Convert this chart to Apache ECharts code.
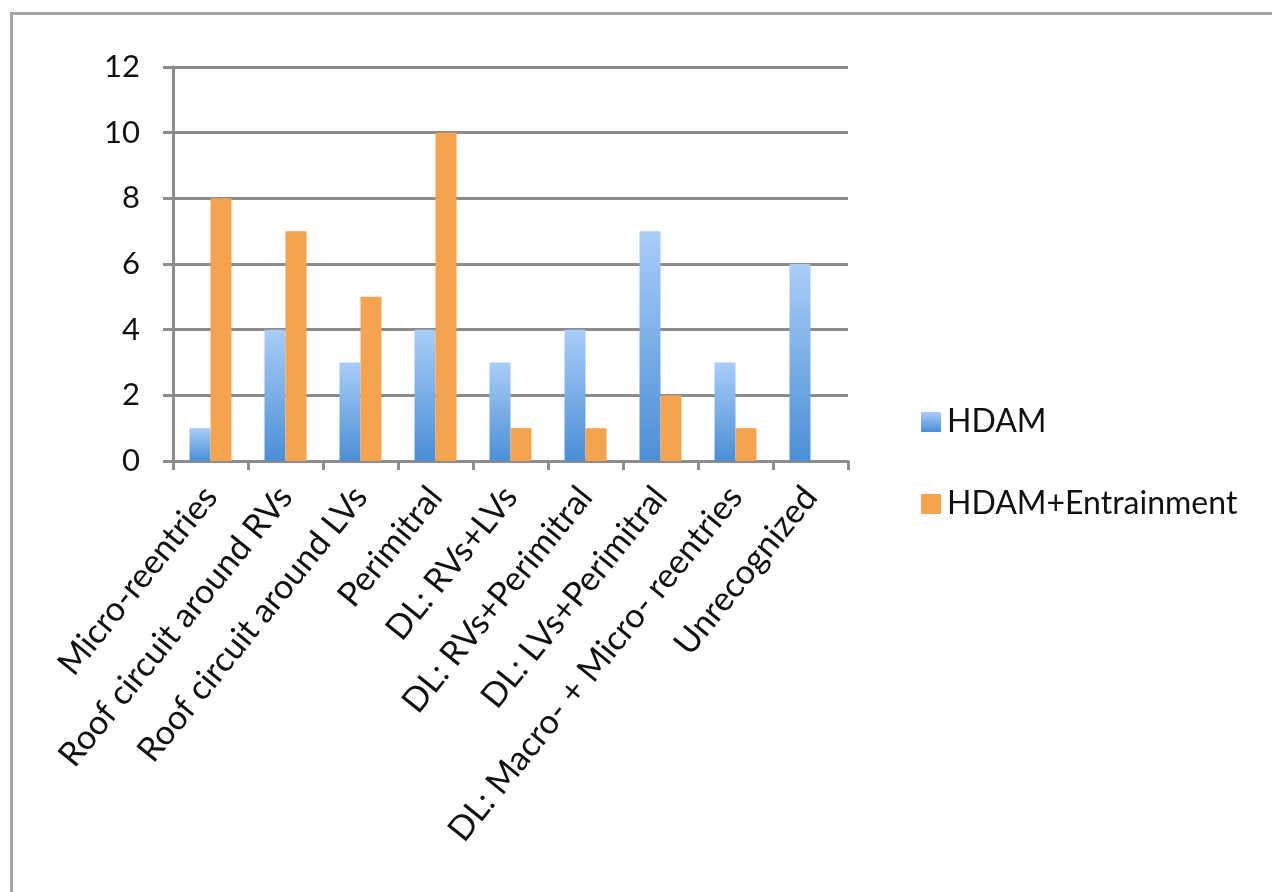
<!DOCTYPE html>
<html>
<head>
<meta charset="utf-8">
<style>
  html, body { margin: 0; padding: 0; background: #fff; overflow: hidden; }
  #frame { position: absolute; left: 10px; top: 12px; width: 1400px; height: 1000px;
           border: 3px solid #a6a6a6; box-sizing: border-box; }
  #chart { position: absolute; left: 0; top: 0; width: 1272px; height: 892px; }
</style>
<script src="https://cdn.jsdelivr.net/npm/echarts@6/dist/echarts.min.js"></script>
</head>
<body>
<div id="frame"></div>
<div id="chart"></div>
<script>
// Circuit types and counts per mapping approach
const categories = [
  'Micro-reentries',
  'Roof circuit around RVs',
  'Roof circuit around LVs',
  'Perimitral',
  'DL: RVs+LVs',
  'DL: RVs+Perimitral',
  'DL: LVs+Perimitral',
  'DL: Macro- + Micro- reentries',
  'Unrecognized'
];
const hdam = [1, 4, 3, 4, 3, 4, 7, 3, 6];
const hdamEntrainment = [8, 7, 5, 10, 1, 1, 2, 1, 0];
const yTicks = [0, 2, 4, 6, 8, 10, 12];

const FONT = 'Lato, "Open Sans", sans-serif';
const chart = echarts.init(document.getElementById('chart'), null, { renderer: 'canvas' });

const blueFill = new echarts.graphic.LinearGradient(0, 0, 0, 1, [
  { offset: 0, color: '#a9cdf8' },
  { offset: 1, color: '#4a8fd6' }
]);
const orangeFill = '#f6a34f';

chart.setOption({
  animation: false,
  backgroundColor: 'transparent',
  grid: { left: 173, right: 424, top: 67, bottom: 431, containLabel: false },
  legend: {
    orient: 'vertical',
    left: 916,
    top: 401,
    itemWidth: 20,
    itemHeight: 20,
    itemGap: 50,
    icon: 'rect',
    textStyle: { fontFamily: FONT, fontSize: 32, color: '#111', padding: [0, 0, 0, 1] },
    data: ['HDAM', 'HDAM+Entrainment']
  },
  xAxis: {
    type: 'category',
    data: categories,
    axisLine: { lineStyle: { color: '#8c8c8c', width: 3 } },
    axisTick: { show: true, length: 9, alignWithLabel: false, lineStyle: { color: '#8c8c8c', width: 3 } },
    axisLabel: {
      rotate: 51,
      interval: 0,
      margin: 30,
      fontFamily: FONT,
      fontSize: 34,
      color: '#111'
    }
  },
  yAxis: {
    type: 'value',
    min: yTicks[0],
    max: yTicks[yTicks.length - 1],
    interval: 2,
    axisLine: { show: true, lineStyle: { color: '#8c8c8c', width: 3 } },
    axisTick: { show: true, length: 10, lineStyle: { color: '#8c8c8c', width: 3 } },
    splitLine: { lineStyle: { color: '#8c8c8c', width: 3 } },
    axisLabel: { margin: 33, fontFamily: FONT, fontSize: 31, color: '#111' }
  },
  series: [
    {
      name: 'HDAM',
      type: 'bar',
      data: hdam,
      barWidth: 21,
      barGap: '0%',
      itemStyle: { color: blueFill }
    },
    {
      name: 'HDAM+Entrainment',
      type: 'bar',
      data: hdamEntrainment,
      barWidth: 21,
      barGap: '0%',
      itemStyle: { color: orangeFill }
    }
  ]
});
</script>
</body>
</html>
